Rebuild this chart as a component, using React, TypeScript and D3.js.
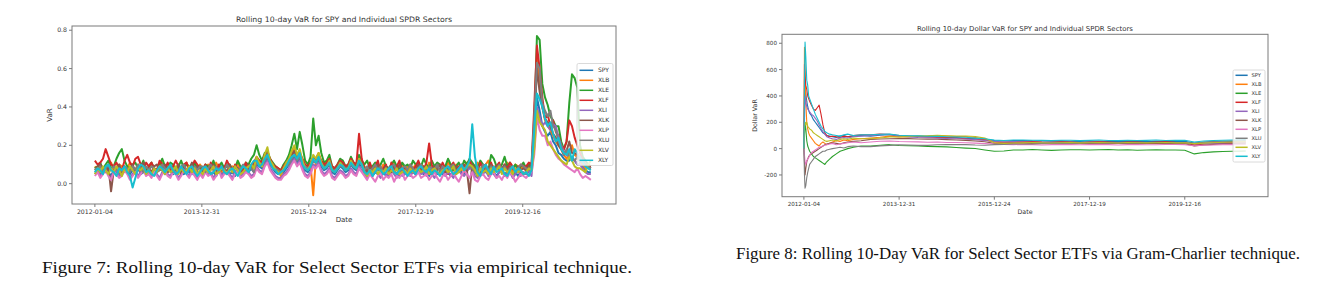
import React from "react";
import * as d3 from "d3";

const SERIES = ["SPY", "XLB", "XLE", "XLF", "XLI", "XLK", "XLP", "XLU", "XLV", "XLY"];
const COLORS = ["#1f77b4", "#ff7f0e", "#2ca02c", "#d62728", "#9467bd", "#8c564b", "#e377c2", "#7f7f7f", "#bcbd22", "#17becf"];
const TICK_IDX = [0, 500, 1000, 1500, 2000];
const TICK_LABELS = ["2012-01-04", "2013-12-31", "2015-12-24", "2017-12-19", "2019-12-16"];
const L_YTICKS = [0, 0.2, 0.4, 0.6, 0.8];
const R_YTICKS = [-200, 0, 200, 400, 600, 800];

// Figure 7: empirical rolling 10-day VaR, in hundredths, one value every 12.6 observations
const L_STEP = 12.6;
const L_SPY = [
  6,7,5,7,8,6,4,7,6,5,7,8,6,5,7,6,8,5,6,7,
  6,5,7,6,8,7,5,6,7,5,6,8,6,5,7,6,5,7,6,5,
  5,7,6,5,6,4,7,5,6,7,5,6,4,7,6,5,7,6,8,6,
  10,9,8,11,13,10,8,6,5,5,6,8,10,12,14,11,13,10,7,6,
  8,12,11,12,9,7,8,10,6,5,7,9,8,6,7,10,8,7,10,9,
  6,5,7,4,6,5,7,6,4,5,6,7,5,4,6,5,7,5,6,5,
  7,6,5,6,4,7,6,5,6,5,7,6,4,6,5,7,6,5,7,8,
  8,6,4,5,7,6,5,7,6,4,6,7,5,6,7,5,6,4,6,5,
  5,6,7,20,45,38,30,27,25,27,22,20,16,15,13,12,12,14,12,10,
  10,9,7,6,6];
const L_XLB = [
  9,7,10,8,6,9,11,8,7,10,9,6,8,11,9,7,10,6,9,8,
  7,10,8,6,9,11,7,9,10,6,8,10,7,9,11,8,6,9,7,10,
  8,6,10,9,7,11,8,6,9,10,7,9,8,11,6,8,10,7,9,11,
  13,12,10,15,17,12,8,8,7,4,8,10,13,16,18,14,16,12,9,8,
  10,-6,13,16,11,9,10,12,8,7,9,11,10,8,9,12,10,9,13,11,
  9,7,10,8,6,9,7,10,8,6,9,11,7,8,10,7,9,6,8,10,
  8,10,9,7,11,8,6,9,10,7,8,11,9,6,10,8,7,9,11,10,
  7,9,11,6,8,10,12,7,9,8,10,7,9,11,8,6,10,9,7,10,
  6,9,8,25,65,50,40,33,30,28,25,22,20,18,15,13,16,20,15,14,
  12,10,8,10,9];
const L_XLE = [
  8,9,11,7,10,12,8,9,13,16,18,12,9,7,10,11,8,9,12,7,
  9,11,8,7,10,13,9,8,11,10,7,9,12,8,10,9,7,11,8,9,
  7,10,9,8,12,7,9,11,8,9,10,7,8,12,9,7,11,10,13,15,
  20,15,12,16,17,13,11,9,8,7,10,12,15,20,26,18,27,20,12,10,
  14,34,20,25,16,11,12,15,9,8,10,13,12,9,10,14,11,10,15,12,
  10,12,8,9,11,7,10,13,9,8,10,12,9,7,11,9,10,8,12,10,
  11,9,13,10,8,12,9,11,10,8,9,13,10,7,9,11,8,12,10,13,
  11,9,8,12,10,9,7,15,13,9,8,10,14,9,11,8,10,7,9,11,
  8,10,9,30,77,75,52,45,41,35,33,30,30,22,18,22,42,57,55,50,
  20,14,12,10,9];
const L_XLF = [
  12,10,11,13,18,14,10,9,11,8,7,12,15,11,9,13,14,10,8,11,
  9,11,8,7,12,10,8,11,7,9,12,9,6,10,11,7,9,12,10,8,
  7,10,6,11,8,5,10,7,8,12,9,6,10,8,5,8,11,7,9,11,
  14,12,11,15,16,13,10,9,8,7,9,11,13,15,17,14,16,13,10,9,
  11,14,13,15,12,10,11,13,9,8,10,12,11,9,10,13,11,10,26,13,
  8,6,11,7,9,12,6,8,10,5,11,7,9,12,6,8,5,10,7,9,
  12,8,7,11,21,10,6,9,7,11,8,5,9,11,7,9,10,6,8,12,
  9,7,5,11,8,10,6,11,7,9,11,6,10,8,11,9,6,8,10,9,
  9,11,10,40,72,60,45,34,36,30,33,27,25,20,18,22,33,30,24,20,
  16,12,10,9,9];
const L_XLI = [
  5,7,4,6,8,5,3,6,7,4,5,8,6,3,5,7,4,6,8,5,
  6,4,7,5,3,6,8,5,4,7,6,3,5,8,6,4,7,5,3,6,
  4,7,5,6,3,5,8,4,6,7,5,3,6,8,4,5,7,6,4,5,
  9,7,6,10,12,8,6,4,3,3,5,6,8,11,13,10,12,8,5,4,
  6,10,9,11,7,5,6,8,4,3,5,7,6,4,5,8,6,5,9,7,
  5,3,6,4,7,5,3,6,5,4,7,5,3,6,4,5,7,4,6,5,
  8,5,6,4,7,5,3,6,5,7,4,6,5,3,6,7,5,4,6,9,
  7,4,3,6,5,7,4,6,5,3,6,7,4,5,6,3,5,7,4,6,
  5,7,4,20,40,35,30,32,30,28,31,30,24,20,17,15,14,13,12,10,
  10,8,6,5,5];
const L_XLK = [
  7,9,10,8,6,9,-4,7,8,10,6,9,7,8,10,6,9,7,11,8,
  8,6,9,10,7,8,10,6,9,7,8,10,5,9,7,8,11,7,9,8,
  6,9,7,8,10,6,7,9,8,6,10,7,9,8,6,9,7,10,8,9,
  13,11,10,14,16,12,10,8,7,6,8,10,12,15,17,14,16,12,9,8,
  10,14,13,15,11,9,10,12,8,7,9,11,10,8,9,12,10,9,13,11,
  8,6,9,7,8,10,6,7,9,8,6,9,7,10,8,6,7,9,8,7,
  10,7,9,8,6,8,9,7,10,8,6,9,7,8,9,6,8,10,7,-5,
  10,8,6,6,9,7,8,10,6,9,7,8,10,7,9,8,6,9,7,8,
  7,9,8,30,60,48,40,34,32,30,26,24,20,18,15,17,22,16,16,15,
  14,12,10,9,8];
const L_XLP = [
  4,6,3,5,7,4,2,6,5,3,4,7,5,2,4,6,3,5,7,4,
  5,3,6,4,2,5,7,4,3,6,5,2,4,7,5,3,6,4,2,5,
  3,6,4,5,2,4,7,3,5,6,4,2,5,7,3,4,6,5,3,4,
  8,6,5,9,11,7,5,3,2,2,4,5,7,10,12,9,11,7,4,3,
  5,9,8,10,6,4,5,7,3,2,4,6,5,3,4,7,5,4,8,6,
  4,2,5,3,1,4,6,2,4,3,5,1,4,3,6,2,4,5,3,4,
  6,3,4,5,2,4,6,3,1,4,5,2,4,6,3,1,4,7,5,3,
  6,2,1,4,5,3,2,5,6,3,4,2,5,3,6,4,1,3,5,4,
  3,5,6,15,35,28,25,25,20,22,18,15,13,12,10,9,8,7,6,8,
  5,3,4,3,2];
const L_XLU = [
  8,7,9,6,8,10,7,9,8,6,7,9,8,6,9,7,10,8,6,9,
  7,9,8,6,7,10,8,7,9,6,8,7,9,10,7,8,6,9,7,9,
  9,6,8,10,7,9,6,8,7,10,8,6,9,7,8,10,7,9,8,6,
  11,10,9,12,14,11,9,8,7,6,7,9,10,13,15,12,14,11,9,8,
  9,12,11,13,10,8,9,10,7,7,8,9,9,8,8,10,9,8,11,10,
  7,9,6,8,10,7,9,6,8,7,9,10,7,6,8,9,7,10,8,6,
  8,10,7,6,9,8,7,10,6,9,8,7,9,10,6,8,9,7,8,9,
  8,6,9,7,10,8,6,9,7,8,10,7,9,6,8,9,7,8,10,9,
  8,7,9,35,63,60,42,38,35,38,30,28,22,20,15,18,14,13,12,14,
  11,12,10,9,8];
const L_XLV = [
  5,8,6,9,7,5,8,6,9,7,4,8,6,9,7,5,8,7,9,5,
  7,5,8,6,9,7,5,8,6,7,9,5,8,6,7,9,6,8,5,7,
  5,8,6,7,9,5,6,8,7,5,8,6,9,7,5,6,8,9,10,8,
  14,11,9,15,19,12,10,7,6,5,8,11,13,17,20,15,18,12,8,7,
  10,15,13,16,11,8,9,12,7,6,8,11,9,7,8,12,9,8,13,10,
  6,4,7,6,8,5,7,6,8,5,7,6,8,5,6,7,5,8,6,7,
  8,6,7,9,5,7,8,6,5,7,8,6,7,9,5,6,8,7,9,10,
  9,7,4,8,6,7,5,8,6,7,9,5,8,6,7,5,8,6,7,5,
  6,8,7,18,38,32,30,28,22,20,18,16,14,12,11,10,14,12,9,8,
  8,7,6,10,12];
const L_XLY = [
  6,8,7,5,9,10,7,6,4,8,7,9,6,4,-2,3,8,10,9,6,
  7,5,4,7,9,8,6,8,10,7,5,6,9,7,5,8,9,6,4,6,
  8,9,7,5,6,8,7,9,6,5,7,8,6,4,7,9,8,6,10,12,
  12,9,10,13,15,11,8,7,5,6,7,9,12,14,15,13,16,10,8,7,
  9,13,11,14,10,8,9,11,7,6,8,10,9,7,8,11,9,8,12,10,
  6,5,7,4,6,8,7,5,6,8,9,6,5,7,8,6,4,6,7,5,
  8,9,7,6,8,5,7,6,4,6,8,9,7,5,6,8,10,7,9,12,
  31,14,6,4,8,10,7,5,9,6,7,8,5,4,7,9,6,8,7,5,
  6,4,7,28,47,44,40,34,30,32,26,22,24,18,16,15,18,12,18,16,
  14,11,9,8,7];

// Figure 8: Gram-Charlier dollar VaR, sampled at these observation numbers
const R_IDX = [0,3,6,10,15,20,25,30,40,50,60,70,80,90,100,110,120,135,150,170,190,210,230,260,300,
  350,400,450,500,550,600,650,700,750,800,850,900,950,1000,1050,1100,1150,1200,1250,1300,
  1350,1400,1450,1500,1550,1600,1650,1700,1750,1800,1850,1900,1950,2000,2050,2100,2150,2200,2250,2320];
const R_SPY = [0,300,480,420,360,320,290,270,250,220,200,180,160,140,120,110,100,95,90,85,95,100,90,95,100,
  95,102,106,97,94,95,90,91,85,84,78,76,70,62,58,61,62,59,58,57,59,56,55,58,56,55,53,56,55,53,55,57,54,55,42,48,51,52,54,56];
const R_XLB = [0,770,600,350,200,150,120,100,80,60,40,30,20,40,50,40,30,40,50,60,55,65,60,70,75,
  80,86,95,89,88,93,95,99,96,92,91,85,70,50,45,49,50,46,45,44,47,45,43,46,45,42,44,46,44,43,45,45,43,44,30,38,43,45,48,50];
const R_XLE = [0,100,200,150,60,20,0,-20,-40,-60,-70,-80,-90,-100,-110,-120,-100,-80,-60,-40,-20,-10,0,10,20,
  20,26,30,24,22,21,17,15,13,8,4,1,-10,-20,-18,-11,-10,-7,-10,-13,-10,-8,-8,-11,-9,-7,-10,-9,-12,-10,-8,-10,-11,-12,-40,-30,-25,-22,-20,-18];
const R_XLF = [0,640,550,480,450,400,380,360,330,300,290,310,330,260,180,120,100,90,95,90,85,95,90,100,105,
  105,111,107,100,96,90,89,85,84,81,75,71,65,52,48,51,52,54,50,48,51,49,47,50,51,49,47,50,49,47,49,51,48,47,25,35,41,42,44,45];
const R_XLI = [0,200,400,350,320,300,290,280,260,250,230,210,180,150,130,110,90,80,75,70,80,85,80,90,95,
  100,106,109,95,89,85,83,80,77,75,73,68,62,55,50,53,50,48,46,45,47,45,44,45,47,44,45,44,42,45,44,46,44,43,35,38,40,42,43,44];
const R_XLK = [0,-100,-200,-150,-100,-80,-60,-50,-40,-30,-20,-10,0,10,20,30,35,40,45,40,35,45,50,55,60,
  70,73,75,77,76,73,72,71,68,65,63,58,52,40,38,41,42,40,38,39,41,41,40,38,40,42,40,39,40,42,40,39,41,38,20,28,32,35,36,37];
const R_XLP = [0,-50,-100,-120,-90,-80,-70,-50,-30,-20,-10,0,10,15,20,25,30,35,40,30,35,40,45,50,45,
  50,56,58,54,52,51,48,50,47,46,45,42,38,35,32,30,32,30,28,30,32,30,29,30,32,30,28,30,31,29,29,31,31,30,22,26,28,29,30,31];
const R_XLU = [0,-200,-300,-280,-220,-180,-150,-120,-100,-80,-60,-50,-40,-30,-20,-20,-10,-5,0,5,10,5,15,20,15,
  15,21,25,29,28,25,25,29,30,31,30,27,26,30,32,35,35,36,39,40,42,40,41,43,43,42,45,43,44,46,46,45,47,45,40,50,55,58,60,62];
const R_XLV = [0,150,200,180,200,170,160,150,140,120,110,100,90,80,70,60,55,60,65,60,70,75,70,80,75,
  75,81,88,89,92,96,98,101,98,96,96,92,80,45,40,43,44,46,45,43,45,47,44,45,46,45,43,46,45,44,45,47,44,45,38,42,45,48,50,52];
const R_XLY = [0,500,810,700,520,480,400,380,340,300,260,230,200,170,150,130,120,110,105,100,95,105,110,100,105,
  105,109,110,101,98,97,94,93,90,88,86,80,75,65,62,65,66,64,63,62,64,64,61,63,65,62,62,64,62,63,65,62,63,64,50,58,62,64,66,68];

const LEFT_DATA = [L_SPY, L_XLB, L_XLE, L_XLF, L_XLI, L_XLK, L_XLP, L_XLU, L_XLV, L_XLY];
const RIGHT_DATA = [R_SPY, R_XLB, R_XLE, R_XLF, R_XLI, R_XLK, R_XLP, R_XLU, R_XLV, R_XLY];

const FONT = "DejaVu Sans, sans-serif";
const TXT = "#333";
const FRAME = "#7a7a7a";

type PanelProps = {
  id: string;
  box: [number, number, number, number];
  xDomain: [number, number];
  yDomain: [number, number];
  series: [number, number][][];
  lineWidth: number;
  yTicks: number[];
  yFmt: (v: number) => string;
  tickFont: number;
  title: string;
  titleY: number;
  titleFont: number;
  titleLen: number;
  ylabel: string;
  ylabelX: number;
  labelFont: number;
  xlabelY: number;
  legend: { x: number; y: number; w: number; h: number; first: number; gap: number; font: number };
};

function Panel(p: PanelProps) {
  const [x0, y0, x1, y1] = p.box;
  const x = d3.scaleLinear().domain(p.xDomain).range([x0, x1]);
  const y = d3.scaleLinear().domain(p.yDomain).range([y1, y0]);
  const line = d3.line<[number, number]>().x((d) => x(d[0])).y((d) => y(d[1]));
  const cx = (x0 + x1) / 2;
  const L = p.legend;
  return (
    <g>
      <defs>
        <clipPath id={p.id}>
          <rect x={x0} y={y0} width={x1 - x0} height={y1 - y0} />
        </clipPath>
      </defs>
      <g clipPath={`url(#${p.id})`}>
        {p.series.map((s, k) => (
          <path key={k} d={line(s) || ""} fill="none" stroke={COLORS[k]} strokeWidth={p.lineWidth} strokeLinejoin="round" />
        ))}
      </g>
      <rect x={x0} y={y0} width={x1 - x0} height={y1 - y0} fill="none" stroke={FRAME} strokeWidth={1} />
      {p.yTicks.map((t) => (
        <g key={t}>
          <line x1={x0 - 3} x2={x0} y1={y(t)} y2={y(t)} stroke={FRAME} />
          <text x={x0 - 5} y={y(t)} dy="0.35em" textAnchor="end" fontSize={p.tickFont} fontFamily={FONT} fill={TXT}>
            {p.yFmt(t)}
          </text>
        </g>
      ))}
      {TICK_IDX.map((t, i) => (
        <g key={t}>
          <line x1={x(t)} x2={x(t)} y1={y1} y2={y1 + 3} stroke={FRAME} />
          <text x={x(t)} y={y1 + 5} dy="0.75em" textAnchor="middle" fontSize={p.tickFont} fontFamily={FONT} fill={TXT}>
            {TICK_LABELS[i]}
          </text>
        </g>
      ))}
      <text x={cx} y={p.titleY} textAnchor="middle" fontSize={p.titleFont} fontFamily={FONT} fill={TXT}
        textLength={p.titleLen} lengthAdjust="spacingAndGlyphs">
        {p.title}
      </text>
      <text x={cx} y={p.xlabelY} textAnchor="middle" fontSize={p.labelFont} fontFamily={FONT} fill={TXT}>Date</text>
      <text transform={`translate(${p.ylabelX},${(y0 + y1) / 2}) rotate(-90)`} textAnchor="middle" fontSize={p.labelFont}
        fontFamily={FONT} fill={TXT}>
        {p.ylabel}
      </text>
      <rect x={L.x} y={L.y} width={L.w} height={L.h} rx={1.5} fill="#fff" fillOpacity={0.8} stroke="#d0d0d0" strokeWidth={0.8} />
      {SERIES.map((s, k) => (
        <g key={s}>
          <line x1={L.x + 2.5} x2={L.x + 2.5 + (L.w * 0.38)} y1={L.first + k * L.gap} y2={L.first + k * L.gap}
            stroke={COLORS[k]} strokeWidth={1.5} />
          <text x={L.x + L.w * 0.58} y={L.first + k * L.gap} dy="0.35em" fontSize={L.font} fontFamily={FONT} fill={TXT}>{s}</text>
        </g>
      ))}
    </g>
  );
}

export default function App() {
  const leftSeries = LEFT_DATA.map((arr) => arr.map((v, i) => [i * L_STEP, v / 100] as [number, number]));
  const rightSeries = RIGHT_DATA.map((arr) => arr.map((v, i) => [R_IDX[i], v] as [number, number]));
  return (
    <svg width={1318} height={284} style={{ position: "absolute", left: 0, top: 0, background: "#fff" }}>
      <rect width={1318} height={284} fill="#fff" />
      <Panel
        id="clipL"
        box={[72, 26, 616, 204]}
        xDomain={[-107, 2436]}
        yDomain={[-0.106, 0.822]}
        series={leftSeries}
        lineWidth={2}
        yTicks={L_YTICKS}
        yFmt={(v) => v.toFixed(1)}
        tickFont={6.2}
        title="Rolling 10-day VaR for SPY and Individual SPDR Sectors"
        titleY={21.5}
        titleFont={7.5}
        titleLen={216}
        ylabel="VaR"
        ylabelX={52}
        labelFont={7}
        xlabelY={222}
        legend={{ x: 577, y: 63.5, w: 36, h: 102, first: 70.3, gap: 10, font: 6 }}
      />
      <Panel
        id="clipR"
        box={[782, 34.3, 1268, 196.7]}
        xDomain={[-115, 2437]}
        yDomain={[-365, 868]}
        series={rightSeries}
        lineWidth={1.1}
        yTicks={R_YTICKS}
        yFmt={(v) => String(v)}
        tickFont={5.6}
        title="Rolling 10-day Dollar VaR for SPY and Individual SPDR Sectors"
        titleY={30.5}
        titleFont={6.8}
        titleLen={216}
        ylabel="Dollar VaR"
        ylabelX={757}
        labelFont={6.3}
        xlabelY={214}
        legend={{ x: 1233, y: 70, w: 32, h: 92, first: 75.3, gap: 9, font: 5.2 }}
      />
      <text x={42} y={273} fontSize={16} fontFamily="Liberation Serif, serif" fill="#111" textLength={590} lengthAdjust="spacingAndGlyphs">
        Figure 7: Rolling 10-day VaR for Select Sector ETFs via empirical technique.
      </text>
      <text x={736} y={259} fontSize={16} fontFamily="Liberation Serif, serif" fill="#111" textLength={564} lengthAdjust="spacingAndGlyphs">
        Figure 8: Rolling 10-Day VaR for Select Sector ETFs via Gram-Charlier technique.
      </text>
    </svg>
  );
}
